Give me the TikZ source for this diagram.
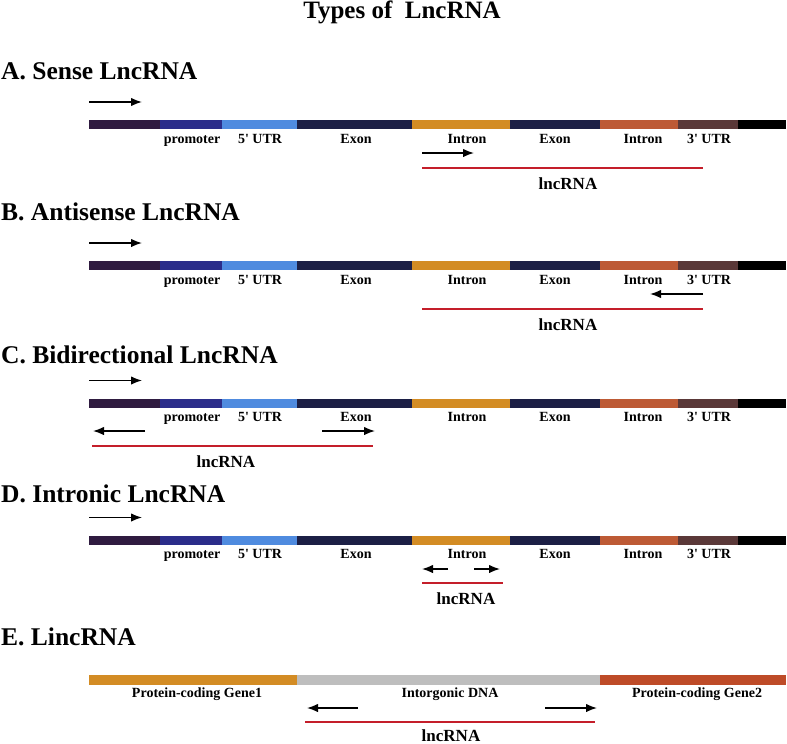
\documentclass[tikz,border=0pt]{standalone}
\usepackage{fontspec}
\setmainfont{Liberation Serif}
\usetikzlibrary{arrows.meta}
\definecolor{cPurple}{HTML}{2F1B40}
\definecolor{cBlue}{HTML}{2B2D8A}
\definecolor{cLight}{HTML}{4F8BDF}
\definecolor{cNavy}{HTML}{1C1F45}
\definecolor{cOrange}{HTML}{D38C24}
\definecolor{cRust}{HTML}{BD5A35}
\definecolor{cBrown}{HTML}{5A3838}
\definecolor{cGray}{HTML}{BEBEBE}
\definecolor{cRed2}{HTML}{BE4B28}
\definecolor{cLnc}{HTML}{C41E2A}
\tikzset{
  lbl/.style={font=\bfseries\fontsize{14}{16}\selectfont, anchor=base, inner sep=0pt},
  lnclbl/.style={font=\bfseries\fontsize{17}{19}\selectfont, anchor=base, inner sep=0pt},
  head/.style={font=\bfseries\fontsize{25.5}{28}\selectfont, anchor=base west, inner sep=0pt},
  arr/.style={line width=1.5pt, -{Latex[length=11pt,width=8.5pt]}},
  lncline/.style={line width=2pt, draw=cLnc},
}
\newcommand{\generow}[2]{%
  \foreach \xa/\xb/\col in {89/160/cPurple,160/222/cBlue,222/297/cLight,297/412/cNavy,412/510/cOrange,510/600/cNavy,600/678/cRust,678/738/cBrown,738/786/black}{
    \fill[\col] (\xa,#2-4.5) rectangle (\xb,#2+4.5);
  }
  \node[lbl] (#1-prom) at (192,#2+18.5) {promoter};
  \node[lbl] (#1-utr5) at (260,#2+18.5) {5\textquotesingle{} UTR};
  \node[lbl] (#1-ex1) at (356,#2+18.5) {Exon};
  \node[lbl] (#1-in1) at (467,#2+18.5) {Intron};
  \node[lbl] (#1-ex2) at (555,#2+18.5) {Exon};
  \node[lbl] (#1-in2) at (643,#2+18.5) {Intron};
  \node[lbl] (#1-utr3) at (709,#2+18.5) {3\textquotesingle{} UTR};
  \coordinate (#1-ts) at (89,#2-22.5);
  \coordinate (#1-te) at (142,#2-22.5);
  \draw[arr] (#1-ts) -- (#1-te);
}
\begin{document}
\begin{tikzpicture}[x=1pt,y=-1pt]
\useasboundingbox (0,0) rectangle (787,744);
\node[font=\bfseries\fontsize{25}{28}\selectfont, anchor=base, inner sep=0pt] (title) at (402,19) {Types of~~LncRNA};

% A
\node[head] (hA) at (1,79) {A. Sense LncRNA};
\generow{A}{124.5}
\coordinate (A-a1) at (422,153); \coordinate (A-a2) at (474,153);
\draw[arr] (A-a1) -- (A-a2);
\coordinate (A-r1) at (422,168); \coordinate (A-r2) at (703,168);
\draw[lncline] (A-r1) -- (A-r2);
\node[lnclbl] (A-l) at (568,189) {lncRNA};

% B
\node[head] (hB) at (1,220) {B. Antisense LncRNA};
\generow{B}{265.5}
\coordinate (B-a1) at (703,294); \coordinate (B-a2) at (650,294);
\draw[arr] (B-a1) -- (B-a2);
\coordinate (B-r1) at (422,309); \coordinate (B-r2) at (703,309);
\draw[lncline] (B-r1) -- (B-r2);
\node[lnclbl] (B-l) at (568,330) {lncRNA};

% C
\node[head] (hC) at (1,363) {C. Bidirectional LncRNA};
\generow{C}{403}
\coordinate (C-a1) at (145,431); \coordinate (C-a2) at (93,431);
\draw[arr] (C-a1) -- (C-a2);
\coordinate (C-a3) at (322,431); \coordinate (C-a4) at (375,431);
\draw[arr] (C-a3) -- (C-a4);
\coordinate (C-r1) at (92,446); \coordinate (C-r2) at (373,446);
\draw[lncline] (C-r1) -- (C-r2);
\node[lnclbl] (C-l) at (226,467) {lncRNA};

% D
\node[head] (hD) at (1,502) {D. Intronic LncRNA};
\generow{D}{540}
\coordinate (D-a1) at (448,569); \coordinate (D-a2) at (422,569);
\draw[arr] (D-a1) -- (D-a2);
\coordinate (D-a3) at (474,569); \coordinate (D-a4) at (500,569);
\draw[arr] (D-a3) -- (D-a4);
\coordinate (D-r1) at (422,583); \coordinate (D-r2) at (503,583);
\draw[lncline] (D-r1) -- (D-r2);
\node[lnclbl] (D-l) at (466,604) {lncRNA};

% E
\node[head] (hE) at (1,645) {E. LincRNA};
\fill[cOrange] (89,675) rectangle (297,685);
\fill[cGray] (297,675) rectangle (600,685);
\fill[cRed2] (600,675) rectangle (786,685);
\node[lbl] (E-g1) at (197,697) {Protein-coding Gene1};
\node[lbl] (E-dna) at (450,697) {Intorgonic DNA};
\node[lbl] (E-g2) at (697,697) {Protein-coding Gene2};
\coordinate (E-a1) at (358,708); \coordinate (E-a2) at (307,708);
\draw[arr] (E-a1) -- (E-a2);
\coordinate (E-a3) at (545,708); \coordinate (E-a4) at (597,708);
\draw[arr] (E-a3) -- (E-a4);
\coordinate (E-r1) at (305,722); \coordinate (E-r2) at (595,722);
\draw[lncline] (E-r1) -- (E-r2);
\node[lnclbl] (E-l) at (451,741) {lncRNA};
\end{tikzpicture}
\end{document}
